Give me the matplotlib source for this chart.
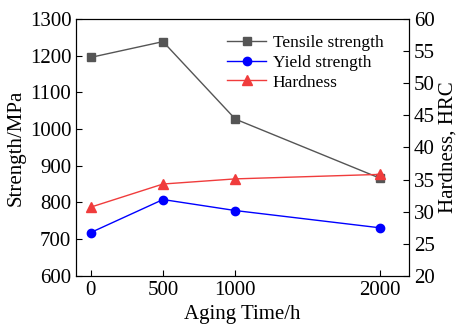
import matplotlib
matplotlib.use('Agg')
import matplotlib.pyplot as plt

plt.rcParams['font.family'] = ['Liberation Serif', 'DejaVu Serif']
plt.rcParams['mathtext.fontset'] = 'stix'

aging_time = [0, 500, 1000, 2000]
tensile = [1195, 1238, 1027, 866]
yield_str = [718, 808, 778, 731]
hardness = [30.7, 34.3, 35.1, 35.8]

fig, ax = plt.subplots(figsize=(4.59, 3.25), dpi=100)
fig.subplots_adjust(left=0.166, right=0.891, top=0.942, bottom=0.151)

l1, = ax.plot(aging_time, tensile, '-s', color='#555555', lw=1, ms=6, label='Tensile strength')
l2, = ax.plot(aging_time, yield_str, '-o', color='blue', lw=1, ms=6, label='Yield strength')
ax.set_xlim(-100, 2200)
ax.set_ylim(600, 1300)
ax.set_xticks([0, 500, 1000, 2000])
ax.set_yticks(range(600, 1301, 100))
ax.tick_params(direction='in', labelsize=15, length=4)
ax.set_xlabel('Aging Time/h', fontsize=15, labelpad=4)
ax.set_ylabel('Strength/MPa', fontsize=15, labelpad=3)

ax2 = ax.twinx()
l3, = ax2.plot(aging_time, hardness, '-^', color='#f03c3c', lw=1, ms=7, label='Hardness')
ax2.set_ylim(20, 60)
ax2.set_yticks(range(20, 61, 5))
ax2.tick_params(direction='in', labelsize=15, length=4)
ax2.set_ylabel('Hardness, HRC', fontsize=15, labelpad=3)

ax2.legend(handles=[l1, l2, l3], loc='upper right', bbox_to_anchor=(0.97, 1.0),
           frameon=False, fontsize=12.5, handlelength=2.2, handletextpad=0.4,
           labelspacing=0.22)

fig.savefig('out.png', dpi=100)
